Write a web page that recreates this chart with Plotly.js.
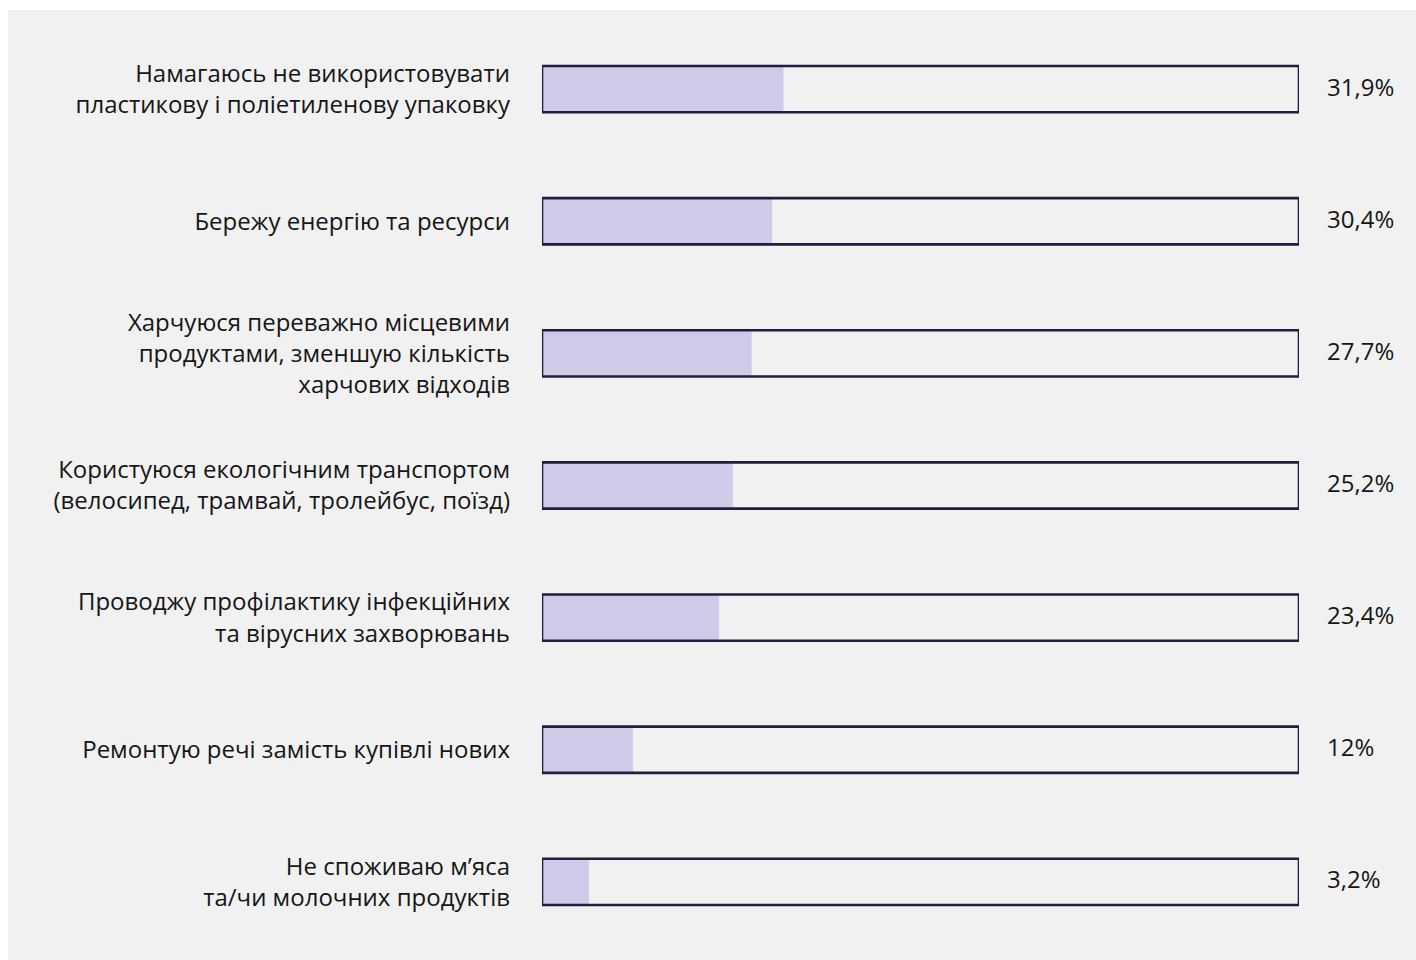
<!DOCTYPE html>
<html>
<head>
<meta charset="utf-8">
<script src="https://cdn.plot.ly/plotly-3.0.1.min.js"></script>
<style>
html,body{margin:0;padding:0;background:#ffffff;}
#chart{position:absolute;left:8px;top:10px;width:1408px;height:950px;}
</style>
</head>
<body>
<div id="chart"></div>
<script>
const categories = [
  "Намагаюсь не використовувати<br>пластикову і поліетиленову упаковку",
  "Бережу енергію та ресурси",
  "Харчуюся переважно місцевими<br>продуктами, зменшую кількість<br>харчових відходів",
  "Користуюся екологічним транспортом<br>(велосипед, трамвай, тролейбус, поїзд)",
  "Проводжу профілактику інфекційних<br>та вірусних захворювань",
  "Ремонтую речі замість купівлі нових",
  "Не споживаю м’яса<br>та/чи молочних продуктів"
];
// Shares as labelled in the chart
const values = [31.9, 30.4, 27.7, 25.2, 23.4, 12, 3.2];
// Bar lengths as drawn in the picture (the smallest bar is drawn with a minimum visible length)
const drawnLengths = [31.9, 30.4, 27.7, 25.2, 23.4, 12, 6.2];
const valueLabels = ["31,9%", "30,4%", "27,7%", "25,2%", "23,4%", "12%", "3,2%"];
const fullScale = [100, 100, 100, 100, 100, 100, 100];

const font = {family: "'Open Sans', 'Noto Sans', sans-serif", size: 24, color: "#161616"};

const traces = [
  {
    type: "bar", orientation: "h",
    y: categories, x: drawnLengths,
    customdata: values,
    width: 0.35,
    marker: {color: "#cfcae8", line: {width: 0}},
    hoverinfo: "skip"
  },
  {
    type: "bar", orientation: "h",
    y: categories, x: fullScale,
    width: 0.35,
    marker: {color: "rgba(0,0,0,0)", line: {width: 2.6, color: "#221d3f"}},
    hoverinfo: "skip"
  }
];

const annotations = categories.map((c, i) => ({
  x: 100, y: c, xref: "x", yref: "y",
  text: valueLabels[i], showarrow: false,
  xanchor: "left", yanchor: "middle", xshift: 26, yshift: 3,
  font: font
}));

const layout = {
  width: 1408, height: 950,
  paper_bgcolor: "#f1f1f1", plot_bgcolor: "#f1f1f1",
  margin: {l: 534, r: 117, t: 13, b: 12},
  barmode: "overlay",
  showlegend: false,
  xaxis: {range: [0, 100], visible: false, fixedrange: true},
  yaxis: {
    autorange: "reversed", showgrid: false, zeroline: false, showline: false,
    ticks: "", ticklabelstandoff: 31, tickfont: font, fixedrange: true
  },
  annotations: annotations
};

Plotly.newPlot("chart", traces, layout, {displayModeBar: false, staticPlot: true});
</script>
</body>
</html>
